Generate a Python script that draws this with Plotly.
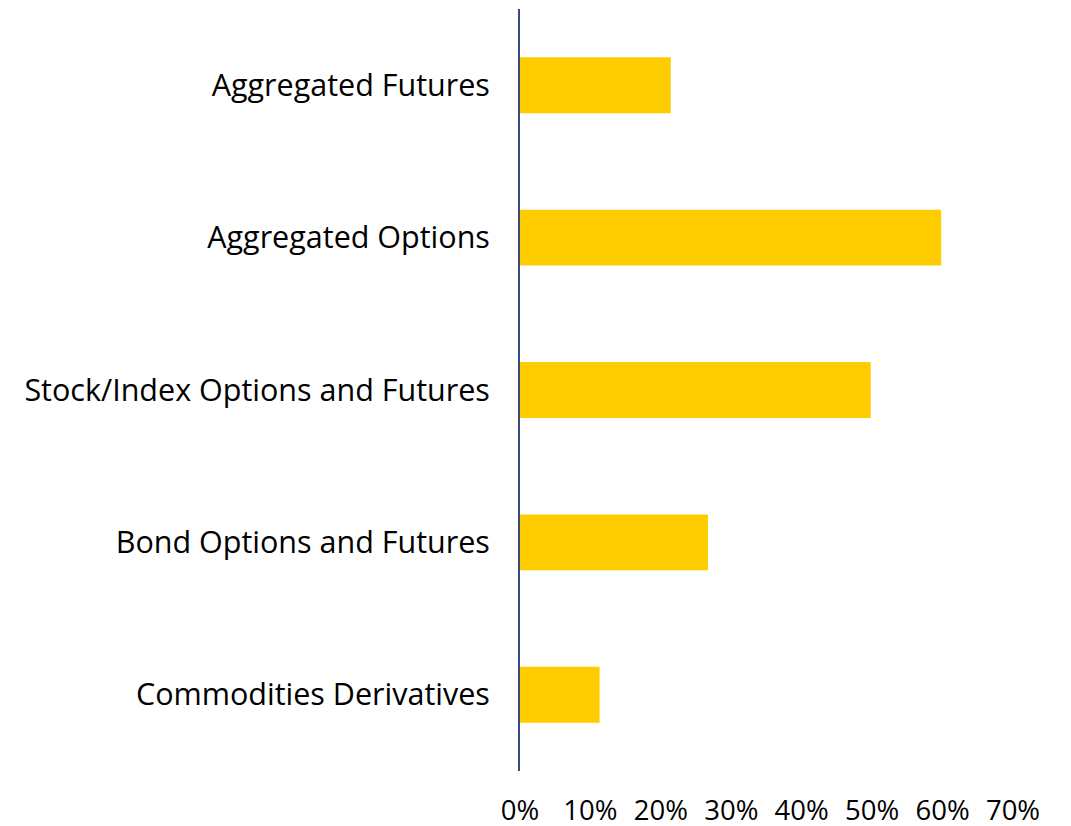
import plotly.graph_objects as go

categories = ["Aggregated Futures", "Aggregated Options", "Stock/Index Options and Futures",
              "Bond Options and Futures", "Commodities Derivatives"]
values = [0.214, 0.598, 0.498, 0.267, 0.113]
tick_vals = [0, 0.1, 0.2, 0.3, 0.4, 0.5, 0.6, 0.7]
tick_text = ["0%", "10%", "20%", "30%", "40%", "50%", "60%", "70%"]

fig = go.Figure(go.Bar(
    x=values, y=categories, orientation="h",
    marker=dict(color="#FFCC00", line=dict(width=0)),
))

font = "Open Sans"
fig.update_layout(
    width=1063, height=818,
    margin=dict(l=512, r=58, t=1, b=55),
    paper_bgcolor="white", plot_bgcolor="white",
    bargap=0.633,
    showlegend=False,
    font=dict(family=font, size=24, color="black"),
    xaxis=dict(range=[0, 0.7], tickvals=tick_vals, ticktext=tick_text,
               showgrid=False, zeroline=False, showline=False, automargin=False,
               ticks="", ticklabelstandoff=20,
               tickfont=dict(family=font, size=27.5, color="black")),
    yaxis=dict(autorange="reversed", showgrid=False, zeroline=False, automargin=False,
               showline=True, linecolor="#3B4A7A", linewidth=2,
               ticks="", ticklabelstandoff=22,
               tickfont=dict(family=font, size=30.5, color="black")),
)
fig.write_html("out.html")
